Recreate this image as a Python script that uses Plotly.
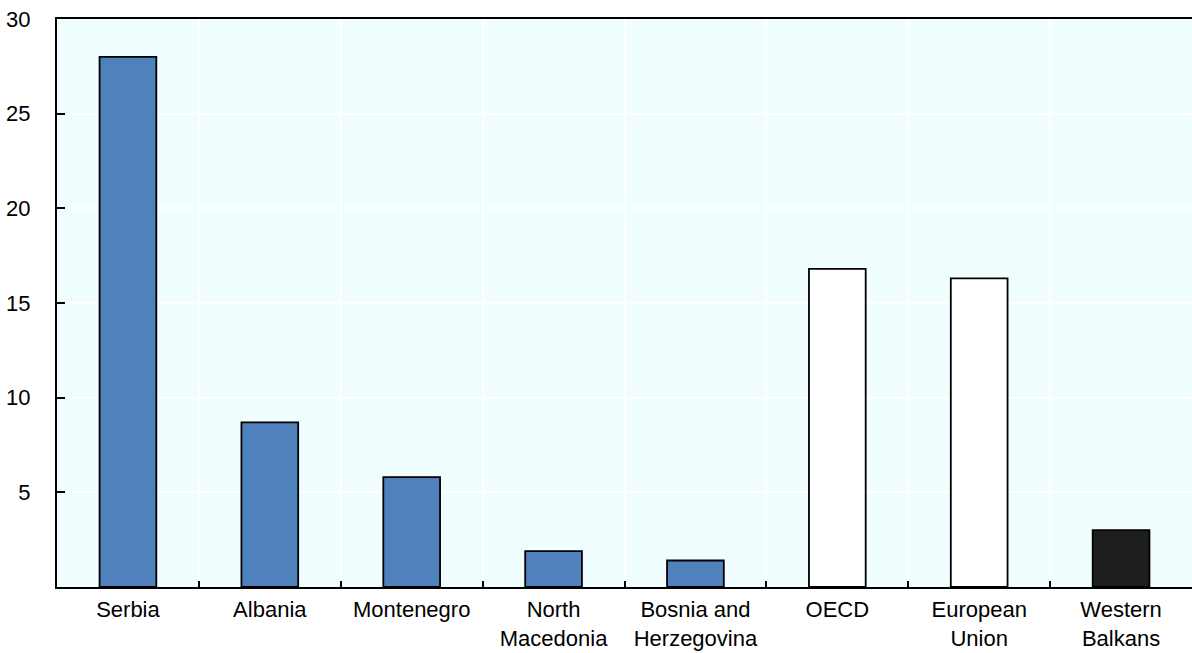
import plotly.graph_objects as go

categories = ["Serbia", "Albania", "Montenegro", "North<br>Macedonia", "Bosnia and<br>Herzegovina",
              "OECD", "European<br>Union", "Western<br>Balkans"]
values = [28.0, 8.7, 5.8, 1.9, 1.4, 16.8, 16.3, 3.0]
bar_colors = ["#4F81BD"] * 5 + ["#FFFFFF", "#FFFFFF", "#1E1E1E"]
y_ticks = [5, 10, 15, 20, 25, 30]

FONT = "Liberation Sans Narrow, Arial Narrow, Liberation Sans, Arial, sans-serif"

fig = go.Figure(go.Bar(
    x=categories, y=values,
    marker=dict(color=bar_colors, line=dict(color="black", width=1.8)),
    width=0.4,
))

fig.update_layout(
    width=1192, height=653,
    margin=dict(l=57, r=0, t=19, b=66),
    paper_bgcolor="white", plot_bgcolor="#F0FEFF",
    font=dict(family=FONT, size=22, color="black"),
    showlegend=False, bargap=0.6,
)
fig.update_xaxes(
    type="category", tickson="boundaries", tickangle=0, automargin=False,
    showgrid=True, gridcolor="white", gridwidth=2,
    showline=True, linecolor="black", linewidth=2, mirror=True,
    ticks="inside", ticklen=6, tickwidth=2, tickcolor="black",
    ticklabelstandoff=2,
    tickfont=dict(family=FONT, size=22),
)
fig.update_yaxes(
    range=[0, 30], tickvals=y_ticks, automargin=False,
    showgrid=True, gridcolor="white", gridwidth=2, zeroline=False,
    showline=True, linecolor="black", linewidth=2,
    ticks="inside", ticklen=8, tickwidth=2, tickcolor="black",
    ticklabelstandoff=20,
    tickfont=dict(family=FONT, size=22),
)

fig.write_html("out.html", config={"displayModeBar": False},
               post_script="document.body.style.margin='0';document.body.style.padding='0';")
